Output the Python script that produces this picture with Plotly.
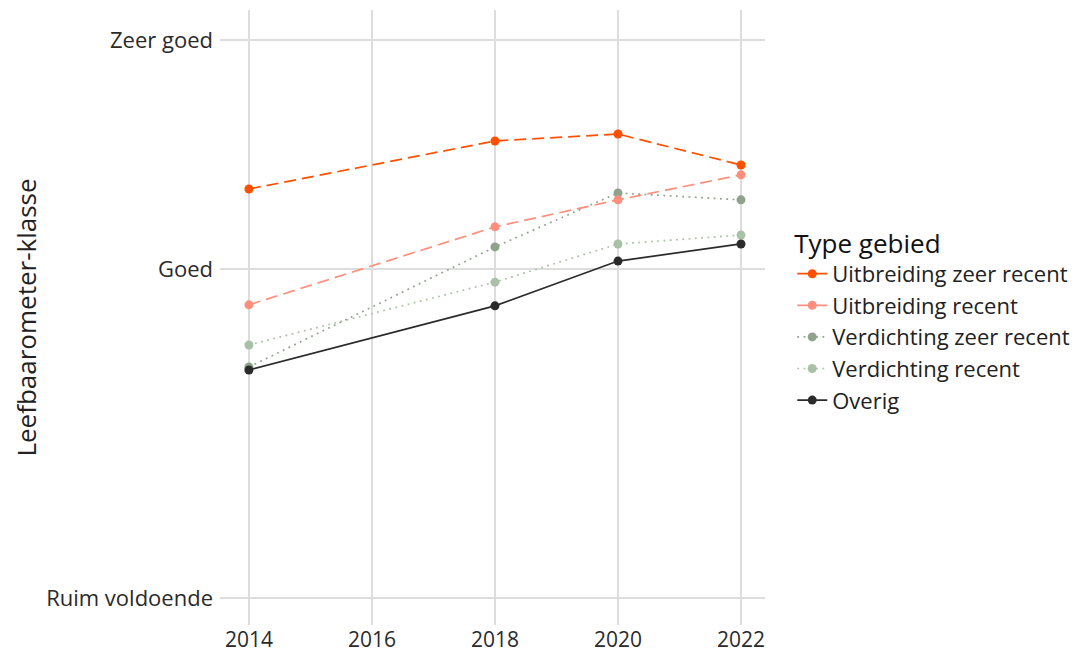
import plotly.graph_objects as go

years = [2014, 2018, 2020, 2022]
series_names = ["Uitbreiding zeer recent", "Uitbreiding recent", "Verdichting zeer recent",
                "Verdichting recent", "Overig"]
uitbreiding_zeer_recent = [1.243, 1.389, 1.410, 1.316]
uitbreiding_recent = [0.891, 1.128, 1.210, 1.286]
verdichting_zeer_recent = [0.702, 1.067, 1.231, 1.210]
verdichting_recent = [0.769, 0.960, 1.076, 1.103]
overig = [0.693, 0.888, 1.024, 1.076]

tick_vals = [0.0, 1.0, 1.696]
tick_text = ["Ruim voldoende", "Goed", "Zeer goed"]

colors = ["#FF5000", "#FF8E7C", "#8FA38C", "#A9C1A7", "#2B2B2B"]
dashes = ["12px,6px", "12px,6px", "1.8px,4.5px", "1.8px,4.5px", "solid"]
values = [uitbreiding_zeer_recent, uitbreiding_recent, verdichting_zeer_recent,
          verdichting_recent, overig]

fig = go.Figure()
order = [3, 2, 1, 0, 4]
traces = {}
for i in range(5):
    traces[i] = go.Scatter(
        x=years, y=values[i], name=series_names[i], mode="lines+markers",
        line=dict(color=colors[i], width=1.7, dash=dashes[i]),
        marker=dict(color=colors[i], size=9),
        legendrank=i + 1,
    )
for i in order:
    fig.add_trace(traces[i])

font = "Open Sans, Noto Sans, DejaVu Sans, sans-serif"
fig.update_layout(
    width=1075, height=650,
    margin=dict(l=212, r=318, t=2, b=33),
    paper_bgcolor="white", plot_bgcolor="white",
    font=dict(family=font, size=22, color="#222222"),
    showlegend=True,
    legend=dict(
        title=dict(text="Type gebied", font=dict(size=26, color="#111111")),
        font=dict(size=22, color="#222222"),
        x=1.05, xanchor="left", y=0.66, yanchor="top",
        traceorder="normal", tracegroupgap=0,
    ),
    xaxis=dict(
        range=[2013.53, 2022.39], tickvals=[2014, 2016, 2018, 2020, 2022],
        showgrid=True, gridcolor="#DDDDDD", gridwidth=1.5, zeroline=False,
        showline=False, ticks="", tickfont=dict(size=21, color="#2a2a2a"),
    ),
    yaxis=dict(
        range=[-0.082, 1.787], tickvals=tick_vals, ticktext=tick_text,
        showgrid=True, gridcolor="#DDDDDD", gridwidth=1.5, zeroline=False,
        showline=False, ticks="", tickfont=dict(size=22, color="#2a2a2a"),
        title=dict(text="Leefbaarometer-klasse", font=dict(size=26, color="#222222"),
                   standoff=14),
        ticklabelstandoff=6,
    ),
)

fig.write_html("out.html")
